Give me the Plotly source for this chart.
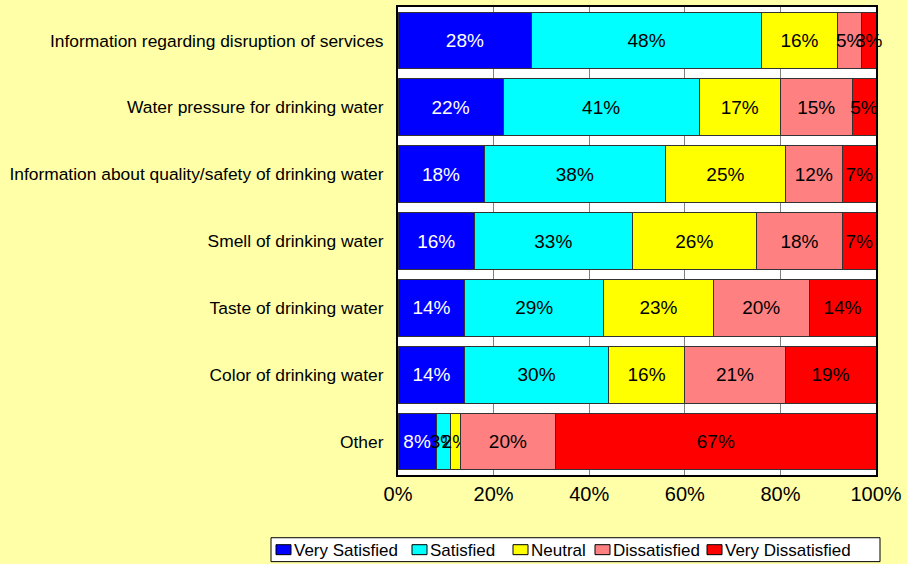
import plotly.graph_objects as go

categories = [
    "Information regarding disruption of services",
    "Water pressure for drinking water",
    "Information about quality/safety of drinking water",
    "Smell of drinking water",
    "Taste of drinking water",
    "Color of drinking water",
    "Other",
]
series_names = ["Very Satisfied", "Satisfied", "Neutral", "Dissatisfied", "Very Dissatisfied"]
very_satisfied = [28, 22, 18, 16, 14, 14, 8]
satisfied = [48, 41, 38, 33, 29, 30, 3]
neutral = [16, 17, 25, 26, 23, 16, 2]
dissatisfied = [5, 15, 12, 18, 20, 21, 20]
very_dissatisfied = [3, 5, 7, 7, 14, 19, 67]
colors = ["#0000FF", "#00FFFF", "#FFFF00", "#FF8080", "#FF0000"]
text_colors = ["white", "black", "black", "black", "black"]
x_ticks = [0, 20, 40, 60, 80, 100]

series = [very_satisfied, satisfied, neutral, dissatisfied, very_dissatisfied]
FONT = "Liberation Sans, Arial, sans-serif"

W, H = 907, 564
ML, MR, MT, MB = 398, 31, 5, 89
PW, PH = W - ML - MR, H - MT - MB


def px_x(px):
    return (px - ML) / PW


def px_y(py):
    return (H - MB - py) / PH


fig = go.Figure()
for name, vals, col, tc in zip(series_names, series, colors, text_colors):
    fig.add_trace(go.Bar(
        y=categories, x=vals, name=name, orientation="h",
        marker=dict(color=col, line=dict(color="#333333", width=1)),
        text=[f"{v}%" for v in vals], textposition="inside",
        insidetextanchor="middle", constraintext="none", textangle=0,
        textfont=dict(color=tc, size=19, family=FONT),
        cliponaxis=False, hoverinfo="skip", showlegend=False,
    ))

# custom legend (box, swatches, labels)
legend_box = (271, 538, 880, 562)
swatch_left = [276, 412, 513, 595, 707]
shapes = [dict(type="rect", xref="paper", yref="paper",
               x0=px_x(legend_box[0]), x1=px_x(legend_box[2]),
               y0=px_y(legend_box[3]), y1=px_y(legend_box[1]),
               fillcolor="white", line=dict(color="black", width=1), layer="above")]
annotations = []
for name, col, sx in zip(series_names, colors, swatch_left):
    shapes.append(dict(type="rect", xref="paper", yref="paper",
                       x0=px_x(sx), x1=px_x(sx + 15), y0=px_y(555), y1=px_y(545),
                       fillcolor=col, line=dict(color="black", width=1), layer="above"))
    annotations.append(dict(xref="paper", yref="paper", x=px_x(sx + 16), y=px_y(550.5),
                            xanchor="left", yanchor="middle", text=name, showarrow=False,
                            font=dict(size=17, family=FONT, color="black")))

fig.update_layout(
    barmode="stack", bargap=0.15,
    width=W, height=H,
    paper_bgcolor="#FFFFA8", plot_bgcolor="white",
    margin=dict(l=ML, r=MR, t=MT, b=MB),
    font=dict(family=FONT, color="black"),
    showlegend=False,
    uniformtext=dict(minsize=19, mode="show"),
    shapes=shapes, annotations=annotations,
)
fig.update_xaxes(
    range=[0, 100], tickvals=x_ticks, ticktext=[f"{t}%" for t in x_ticks],
    tickfont=dict(size=20), showgrid=True, gridcolor="#808080", gridwidth=1,
    showline=True, linecolor="black", linewidth=2, mirror=True,
    zeroline=False, ticks="", fixedrange=True,
)
fig.update_yaxes(
    autorange="reversed", tickfont=dict(size=17.4), ticks="",
    showline=True, linecolor="black", linewidth=2, mirror=True,
    ticklabelstandoff=9,
)

fig.write_html("out.html", config={"displayModeBar": False},
               post_script="document.body.style.margin='0';")
